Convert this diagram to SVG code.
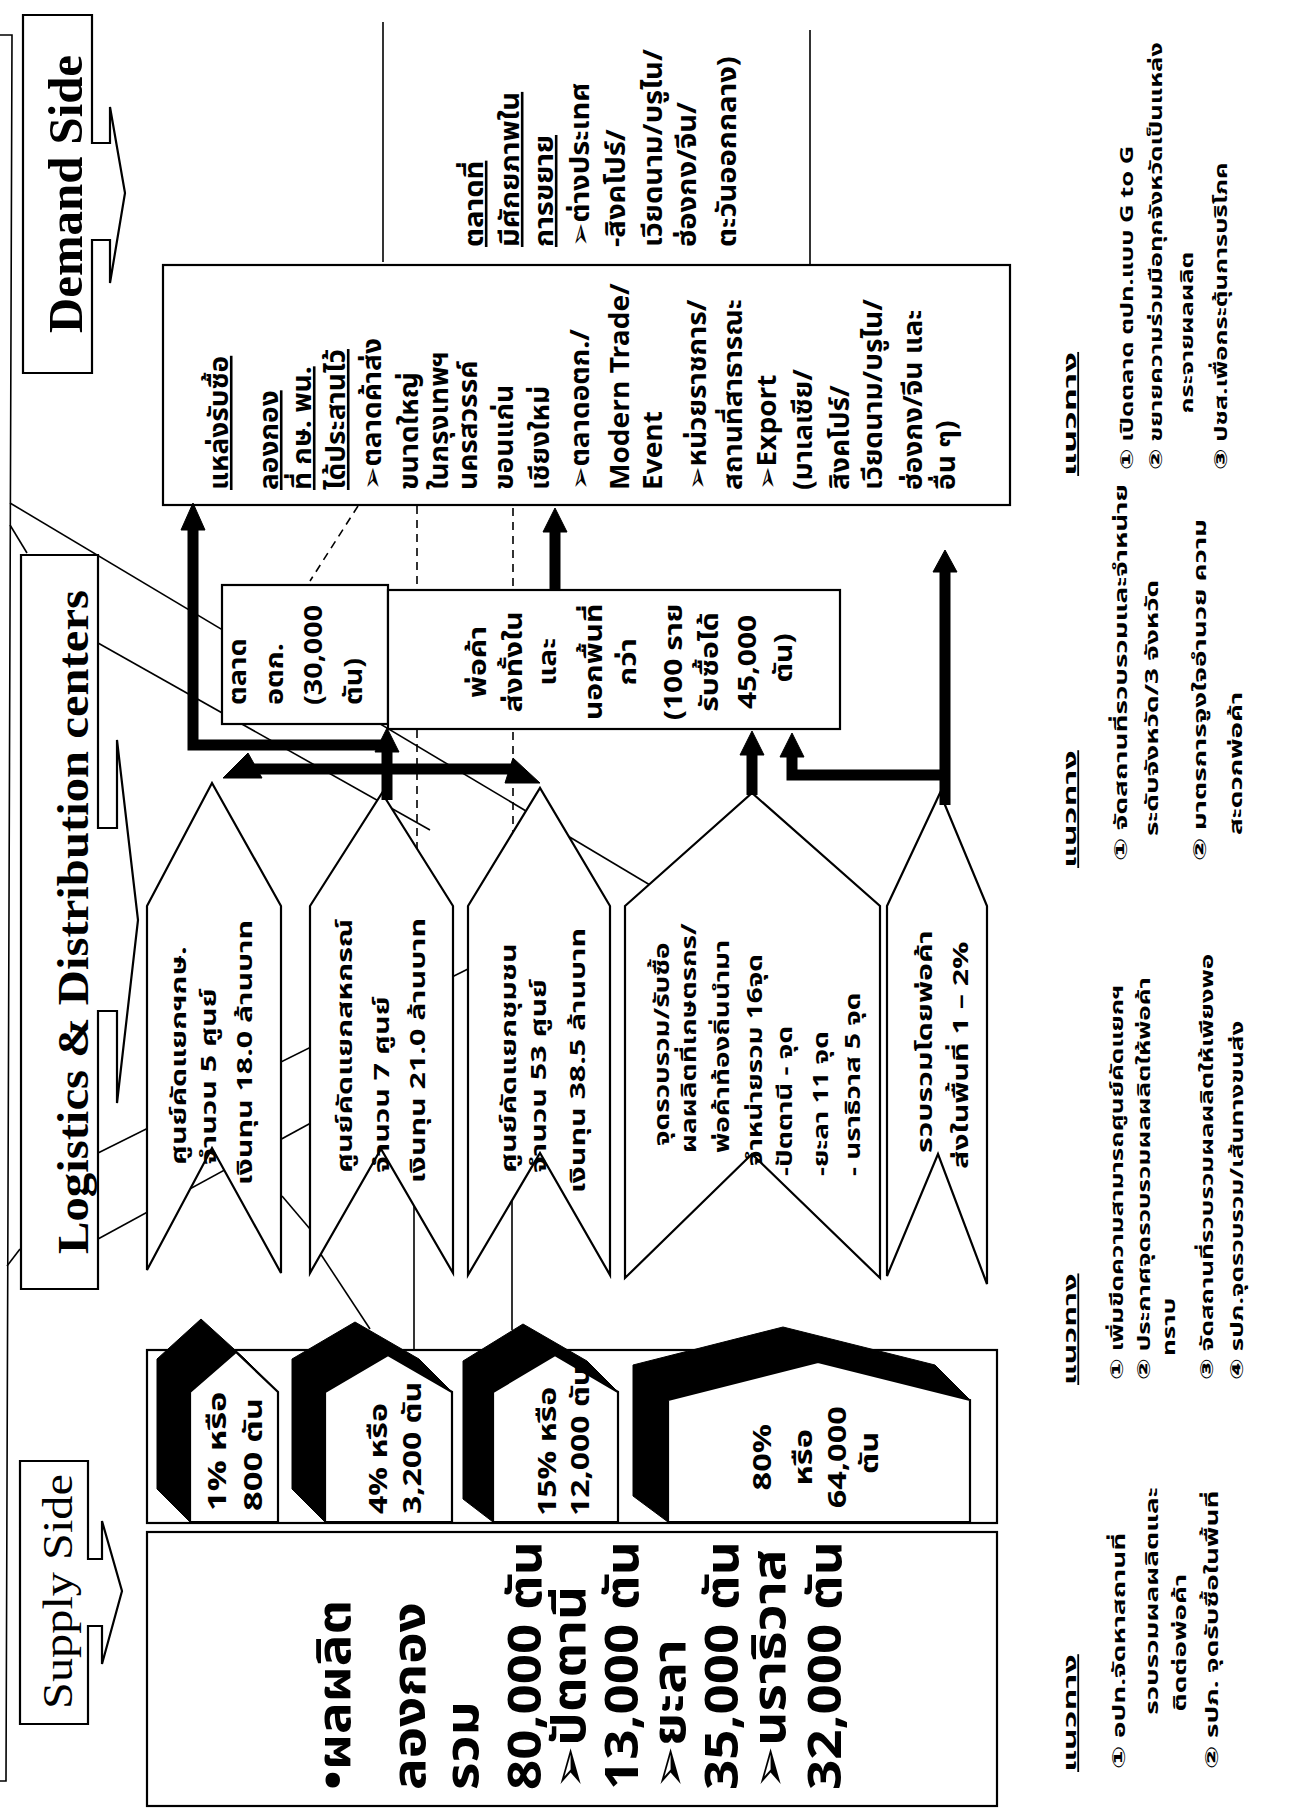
<svg xmlns="http://www.w3.org/2000/svg" width="1291" height="1810" viewBox="0 0 1291 1810">
<style>
.t{font-family:"Noto Sans Thai","Noto Sans","DejaVu Sans",sans-serif;font-weight:bold;fill:#000}
.ttl{font-family:"Liberation Serif",serif;fill:#000}
.ln{stroke:#000;fill:none;stroke-width:1.6}
.dash{stroke:#000;fill:none;stroke-width:1.6;stroke-dasharray:8 6}
.bx{fill:#fff;stroke:#000;stroke-width:2.2}
.tk{stroke:#000;stroke-width:11;fill:none;stroke-linejoin:miter}
.blk{fill:#000;stroke:#000;stroke-width:1}
.u{text-decoration:underline}
</style>
<rect width="1291" height="1810" fill="#fff"/>

<g id="background-lines">
<path class="ln" d="M0,35 H12 L6,1781 H0"/>
<path class="ln" d="M10,525 L27,553"/>
<path class="ln" d="M7,1266 L20,1249"/>
<path class="ln" d="M10,503 L650,885"/>
<path class="ln" d="M98,643 L430,830"/>
<path class="ln" d="M98,1153 L470,968"/>
<path class="ln" d="M98,1239 L320,1118"/>
<path class="ln" d="M282,1196 L310,1229"/>
<path class="ln" d="M320,1253 L370,1329"/>
<path class="dash" d="M417,506 V900"/>
<path class="ln" d="M414,1200 V1349"/>
<path class="dash" d="M513,508 V900"/>
<path class="ln" d="M512,1190 V1330"/>
<path class="dash" d="M358,506 L310,581" stroke-dasharray="10 4 2 4"/>
<path class="ln" d="M383,22 V262"/>
<path class="ln" d="M810,30 V267"/>
</g>

<g id="title-demand">
<path class="bx" d="M23,15 H92 V143 H110 V107 L125,193 L110,283 V240 H92 V373 H23 Z"/>
<text class="ttl" font-size="48" font-weight="bold" textLength="278" lengthAdjust="spacingAndGlyphs" transform="translate(82,333) rotate(-90)">Demand Side</text>
</g>
<g id="title-logistics">
<path class="bx" d="M21,555 H98 V828 H117 V740 L138,920 L117,1103 V1011 H98 V1289 H21 Z"/>
<text class="ttl" font-size="44" font-weight="bold" textLength="664" lengthAdjust="spacingAndGlyphs" transform="translate(88,1254) rotate(-90)">Logistics &amp; Distribution centers</text>
</g>
<g id="title-supply">
<path class="bx" d="M20,1461 H88 V1559 H102 V1521 L122,1591 L102,1664 V1626 H88 V1724 H20 Z"/>
<text class="ttl" font-size="42" textLength="235" lengthAdjust="spacingAndGlyphs" transform="translate(72,1709) rotate(-90)">Supply Side</text>
</g>

<g id="demand-box">
<rect class="bx" x="163" y="265" width="847" height="240"/>
<text class="t" font-size="26" transform="translate(228,490) rotate(-90) scale(1.08,1)">
<tspan class="u" x="0" y="0">แหล่งรับซื้อ</tspan>
<tspan class="u" x="0" y="50">ลองกอง</tspan>
<tspan class="u" x="0" y="83">ที่ กษ. พน.</tspan>
<tspan class="u" x="0" y="117">ได้ประสานไว้</tspan>
<tspan x="0" y="153">➢ตลาดค้าส่ง</tspan>
<tspan x="0" y="190">ขนาดใหญ่</tspan>
<tspan x="0" y="220">ในกรุงเทพฯ</tspan>
<tspan x="0" y="249">นครสวรรค์</tspan>
<tspan x="0" y="285">ขอนแก่น</tspan>
<tspan x="0" y="321">เชียงใหม่</tspan>
<tspan x="0" y="361">➢ตลาดอตก./</tspan>
<tspan x="0" y="401">Modern Trade/</tspan>
<tspan x="0" y="434">Event</tspan>
<tspan x="0" y="478">➢หน่วยราชการ/</tspan>
<tspan x="0" y="514">สถานที่สาธารณะ</tspan>
<tspan x="0" y="548">➢Export</tspan>
<tspan x="0" y="584">(มาเลเซีย/</tspan>
<tspan x="0" y="621">สิงคโปร์/</tspan>
<tspan x="0" y="654">เวียดนาม/บรูไน/</tspan>
<tspan x="0" y="694">ฮ่องกง/จีน และ</tspan>
<tspan x="0" y="727">อื่น ๆ)</tspan>
</text>
</g>

<g id="potential-markets">
<text class="t" font-size="26" transform="translate(483,247) rotate(-90) scale(1.12,1)">
<tspan class="u" x="0" y="0">ตลาดที่</tspan>
<tspan class="u" x="0" y="36">มีศักยภาพใน</tspan>
<tspan class="u" x="0" y="70">การขยาย</tspan>
<tspan x="0" y="106">➢ต่างประเทศ</tspan>
<tspan x="0" y="142">-สิงคโปร์/</tspan>
<tspan x="0" y="179">เวียดนาม/บรูไน/</tspan>
<tspan x="0" y="213">ฮ่องกง/จีน/</tspan>
<tspan x="0" y="253">ตะวันออกกลาง)</tspan>
</text>
</g>

<g id="market-aor-tor-kor">
<rect class="bx" x="222" y="585" width="166" height="139"/>
<text class="t" font-size="25" transform="translate(246,705) rotate(-90) scale(1.15,1)">
<tspan x="0" y="0">ตลาด</tspan>
<tspan x="0" y="37">อตก.</tspan>
<tspan x="0" y="76">(30,000</tspan>
<tspan x="0" y="116">ตัน)</tspan>
</text>
</g>

<g id="wholesalers">
<rect class="bx" x="388" y="590" width="452" height="139"/>
<text class="t" font-size="25" text-anchor="middle" transform="translate(486,658) rotate(-90) scale(1.2,1)">
<tspan x="0" y="0">พ่อค้า</tspan>
<tspan x="0" y="36">ส่งทั้งใน</tspan>
<tspan x="0" y="70">และ</tspan>
<tspan x="0" y="116">นอกพื้นที่</tspan>
<tspan x="0" y="150">กว่า</tspan>
<tspan x="0" y="196">(100 ราย</tspan>
<tspan x="0" y="232">รับซื้อได้</tspan>
<tspan x="0" y="270">45,000</tspan>
<tspan x="0" y="306">ตัน)</tspan>
</text>
</g>

<g id="chevron-1">
<polygon class="bx" points="147,906 212,783 281,906 281,1273 212,1148 147,1270"/>
<text class="t" font-size="22" transform="translate(186,1165) rotate(-90) scale(1.38,1)">
<tspan x="0" y="0">ศูนย์คัดแยกฯกษ.</tspan>
<tspan x="0" y="30">จำนวน 5 ศูนย์</tspan>
<tspan x="-14.5" y="66">เงินทุน 18.0 ล้านบาท</tspan>
</text>
</g>
<g id="chevron-2">
<polygon class="bx" points="310,906 382,793 453,906 453,1273 381,1149 310,1273"/>
<text class="t" font-size="22" transform="translate(352,1173) rotate(-90) scale(1.38,1)">
<tspan x="0" y="0">ศูนย์คัดแยกสหกรณ์</tspan>
<tspan x="0" y="37">จำนวน 7 ศูนย์</tspan>
<tspan x="-7.2" y="73">เงินทุน 21.0 ล้านบาท</tspan>
</text>
</g>
<g id="chevron-3">
<polygon class="bx" points="468,906 540,788 610,906 610,1275 540,1153 468,1275"/>
<text class="t" font-size="22" transform="translate(516,1173) rotate(-90) scale(1.38,1)">
<tspan x="0" y="0">ศูนย์คัดแยกชุมชน</tspan>
<tspan x="0" y="30">จำนวน 53 ศูนย์</tspan>
<tspan x="-14.5" y="69">เงินทุน 38.5 ล้านบาท</tspan>
</text>
</g>
<g id="chevron-4">
<polygon class="bx" points="625,906 752,793 880,906 880,1278 752,1154 625,1278"/>
<text class="t" font-size="21" transform="translate(669,1146) rotate(-90) scale(1.33,1)">
<tspan x="0" y="0">จุดรวบรวม/รับซื้อ</tspan>
<tspan x="-5.3" y="27">ผลผลิตที่เกษตรกร/</tspan>
<tspan x="-5.3" y="60">พ่อค้าท้องถิ่นนำมา</tspan>
<tspan x="-15" y="93">จำหน่ายรวม 16จุด</tspan>
<tspan x="-22.6" y="123">-ปัตตานี - จุด</tspan>
<tspan x="-22.6" y="159">-ยะลา 11 จุด</tspan>
<tspan x="-22.6" y="191">- นราธิวาส 5 จุด</tspan>
</text>
</g>
<g id="chevron-5">
<polygon class="bx" points="887,906 940,793 987,906 987,1284 938,1154 887,1276"/>
<text class="t" font-size="22" transform="translate(932,1153) rotate(-90) scale(1.38,1)">
<tspan x="0" y="0">รวบรวมโดยพ่อค้า</tspan>
<tspan x="-11.6" y="36">ส่งในพื้นที่ 1 – 2%</tspan>
</text>
</g>

<g id="connectors">
<path class="tk" d="M387,800 V745"/>
<polygon class="blk" points="387,728 375,752 399,752"/>
<path class="tk" d="M392,745 H193 V520"/>
<polygon class="blk" points="193,503 181,530 205,530"/>
<path class="tk" d="M247,769 H513"/>
<polygon class="blk" points="223,778 248,753 262,778"/>
<polygon class="blk" points="505,783 513,758 540,783"/>
<path class="tk" d="M555,590 V525"/>
<polygon class="blk" points="555,508 543,532 567,532"/>
<path class="tk" d="M752,795 V750"/>
<polygon class="blk" points="752,731 740,755 764,755"/>
<path class="tk" d="M945,805 V570"/>
<polygon class="blk" points="945,550 933,572 957,572"/>
<path class="tk" d="M950,775 H792 V755"/>
<polygon class="blk" points="792,733 780,757 804,757"/>
</g>

<g id="share-container">
<rect class="bx" x="147" y="1350" width="850" height="173"/>
</g>
<g id="house-1">
<polygon class="blk" points="157,1489 157,1359 201,1319 245,1359 278,1392 278,1522 190,1522"/>
<polygon class="bx" points="190,1522 190,1392 236,1352 278,1392 278,1522"/>
<text class="t" font-size="25" transform="translate(226,1511) rotate(-90) scale(1.38,1)">
<tspan x="0" y="0">1% หรือ</tspan>
<tspan x="0" y="36">800 ตัน</tspan>
</text>
</g>
<g id="house-2">
<polygon class="blk" points="292,1489 292,1359 355,1322 419,1359 452,1392 452,1522 325,1522"/>
<polygon class="bx" points="325,1522 325,1392 388,1355 452,1392 452,1522"/>
<text class="t" font-size="25" transform="translate(387,1514) rotate(-90) scale(1.28,1)">
<tspan x="0" y="0">4% หรือ</tspan>
<tspan x="0" y="34">3,200 ตัน</tspan>
</text>
</g>
<g id="house-3">
<polygon class="blk" points="463,1499 463,1361 523,1324 587,1361 618,1392 618,1522 493,1522"/>
<polygon class="bx" points="493,1522 493,1392 555,1355 618,1392 618,1522"/>
<text class="t" font-size="25" transform="translate(556,1516) rotate(-90) scale(1.28,1)">
<tspan x="0" y="0">15% หรือ</tspan>
<tspan x="0" y="33">12,000 ตัน</tspan>
</text>
</g>
<g id="house-4">
<polygon class="blk" points="633,1496 633,1365 783,1327 935,1365 970,1400 970,1522 668,1522"/>
<polygon class="bx" points="668,1522 668,1400 818,1362 970,1400 970,1522"/>
<text class="t" font-size="25" text-anchor="middle" transform="translate(771,1453) rotate(-90) scale(1.3,1)">
<tspan x="0" y="0">80%</tspan>
<tspan x="0" y="41">หรือ</tspan>
<tspan x="0" y="75">64,000</tspan>
<tspan x="0" y="107">ตัน</tspan>
</text>
</g>

<g id="supply-box">
<rect class="bx" x="147" y="1532" width="850" height="274"/>
<text class="t" font-size="46" transform="translate(350,1790) rotate(-90) scale(1.15,1)">
<tspan x="0" y="0">•ผลผลิต</tspan>
<tspan x="0" y="75">ลองกอง</tspan>
<tspan x="0" y="128">รวม</tspan>
<tspan x="0" y="191">80,000 ตัน</tspan>
<tspan x="0" y="235">➢ปัตตานี</tspan>
<tspan x="0" y="288">13,000 ตัน</tspan>
<tspan x="0" y="335">➢ยะลา</tspan>
<tspan x="0" y="388">35,000 ตัน</tspan>
<tspan x="0" y="435">➢นราธิวาส</tspan>
<tspan x="0" y="491">32,000 ตัน</tspan>
</text>
</g>

<g id="notes-supply">
<text class="t u" font-size="18" transform="translate(1076,1772) rotate(-90) scale(1.9,1)">แนวทาง</text>
<text class="t" font-size="18" transform="translate(1076,1772) rotate(-90) scale(1.55,1)">
<tspan x="2" y="49">① อปท.จัดหาสถานที่</tspan>
<tspan x="37" y="82">รวบรวมผลผลิตและ</tspan>
<tspan x="39" y="110">ติดต่อพ่อค้า</tspan>
<tspan x="2" y="142">② รปภ. จุดรับซื้อในพื้นที่</tspan>
</text>
</g>
<g id="notes-logistics">
<text class="t u" font-size="18" transform="translate(1076,1385) rotate(-90) scale(1.8,1)">แนวทาง</text>
<text class="t" font-size="18" transform="translate(1076,1385) rotate(-90) scale(1.45,1)">
<tspan x="3.4" y="47">① เพิ่มขีดความสามารถศูนย์คัดแยกฯ</tspan>
<tspan x="3.4" y="74">② ประกาศจุดรวบรวมผลผลิตให้พ่อค้า</tspan>
<tspan x="20" y="99">ทราบ</tspan>
<tspan x="3.4" y="137">③ จัดสถานที่รวบรวมผลผลิตให้เพียงพอ</tspan>
<tspan x="3.4" y="167">④ รปภ.จุดรวบรวม/เส้นทางขนส่ง</tspan>
</text>
</g>
<g id="notes-traders">
<text class="t u" font-size="18" transform="translate(1076,868) rotate(-90) scale(1.9,1)">แนวทาง</text>
<text class="t" font-size="18" transform="translate(1076,868) rotate(-90) scale(1.55,1)">
<tspan x="4.5" y="51">① จัดสถานที่รวบรวมและจำหน่าย</tspan>
<tspan x="20.6" y="82">ระดับจังหวัด/3 จังหวัด</tspan>
<tspan x="4.5" y="130">② มาตรการจูงใจอำนวย ความ</tspan>
<tspan x="21.3" y="166">สะดวกพ่อค้า</tspan>
</text>
</g>
<g id="notes-demand">
<text class="t u" font-size="18" transform="translate(1076,476) rotate(-90) scale(2.0,1)">แนวทาง</text>
<text class="t" font-size="18" transform="translate(1076,476) rotate(-90) scale(1.42,1)">
<tspan x="4.2" y="57">① เปิดตลาด ตปท.แบบ G to G</tspan>
<tspan x="4.2" y="86">② ขยายความร่วมมือทุกจังหวัดเป็นแหล่ง</tspan>
<tspan x="44" y="117">กระจายผลผลิต</tspan>
<tspan x="4.2" y="151">③ ปชส.เพื่อกระตุ้นการบริโภค</tspan>
</text>
</g>
</svg>
